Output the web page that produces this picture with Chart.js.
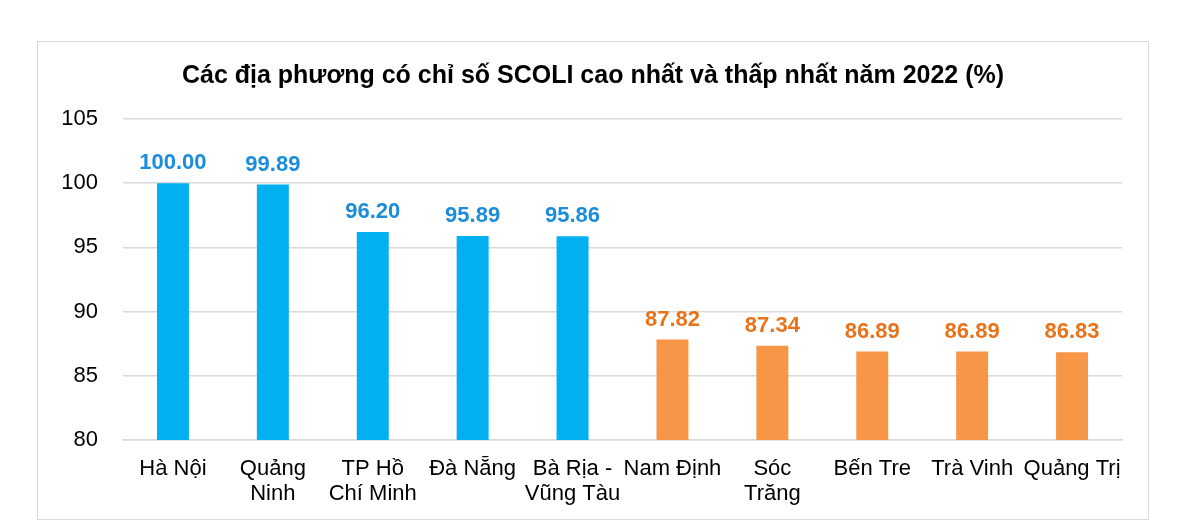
<!DOCTYPE html>
<html>
<head>
<meta charset="utf-8">
<script src="https://cdn.jsdelivr.net/npm/chart.js@4"></script>
<style>
  body { margin: 0; background: #fff; }
  #box {
    position: absolute; left: 37px; top: 41px;
    width: 1110px; height: 477px;
    border: 1.5px solid #d9d9d9;
  }
</style>
</head>
<body>
<div id="box"><canvas id="chart"></canvas></div>
<script>
// Data
const chartTitle = 'Các địa phương có chỉ số SCOLI cao nhất và thấp nhất năm 2022 (%)';
const provinces = [
    'Hà Nội', ['Quảng', 'Ninh'], ['TP Hồ', 'Chí Minh'], 'Đà Nẵng', ['Bà Rịa -', 'Vũng Tàu'],
    'Nam Định', ['Sóc', 'Trăng'], 'Bến Tre', 'Trà Vinh', 'Quảng Trị'
];
const scoliValues = [100.00, 99.89, 96.20, 95.89, 95.86, 87.82, 87.34, 86.89, 86.89, 86.83];
const yTicks = [80, 85, 90, 95, 100, 105];

const barColors = scoliValues.map((v, i) => i < 5 ? '#00B0F0' : '#F79646');
const labelColors = scoliValues.map((v, i) => i < 5 ? '#1C8DDA' : '#E8731A');

const fontFamily = '"Liberation Sans", Arial, sans-serif';

// Title centred on the whole box, values above each bar
const extraText = {
    id: 'extraText',
    afterDraw(chart) {
        const ctx = chart.ctx;
        ctx.save();
        ctx.textAlign = 'center';
        ctx.textBaseline = 'middle';
        ctx.fillStyle = '#000';
        ctx.font = 'bold 25px ' + fontFamily;
        ctx.fillText(chartTitle, chart.width / 2, 34);

        ctx.font = 'bold 22px ' + fontFamily;
        ctx.textBaseline = 'bottom';
        chart.getDatasetMeta(0).data.forEach((bar, i) => {
            ctx.fillStyle = labelColors[i];
            ctx.fillText(scoliValues[i].toFixed(2), bar.x, bar.y - 9);
        });
        ctx.restore();
    }
};

Chart.defaults.font.family = fontFamily;
Chart.defaults.color = '#000';

new Chart(document.getElementById('chart'), {
    type: 'bar',
    data: {
        labels: provinces,
        datasets: [{
            data: scoliValues,
            backgroundColor: barColors,
            categoryPercentage: 1,
            barPercentage: 0.32
        }]
    },
    options: {
        responsive: true,
        maintainAspectRatio: false,
        animation: false,
        layout: { padding: { top: 77, left: 0, right: 26, bottom: 0 } },
        plugins: {
            legend: { display: false },
            tooltip: { enabled: false },
            title: { display: false }
        },
        scales: {
            x: {
                grid: { display: false },
                border: { color: '#d9d9d9', width: 1.5 },
                ticks: {
                    font: { size: 22, lineHeight: 1.14 },
                    color: '#000',
                    maxRotation: 0,
                    autoSkip: false,
                    padding: 8
                },
                afterFit(scale) { scale.height = 79; }
            },
            y: {
                min: 80,
                max: 105,
                afterBuildTicks(scale) { scale.ticks = yTicks.map(v => ({ value: v })); },
                grid: { color: '#d9d9d9', lineWidth: 1.5, drawTicks: false },
                border: { display: false },
                ticks: {
                    font: { size: 22 },
                    color: '#000',
                    padding: 25
                },
                afterFit(scale) { scale.width = 85; }
            }
        }
    },
    plugins: [extraText]
});
</script>
</body>
</html>
